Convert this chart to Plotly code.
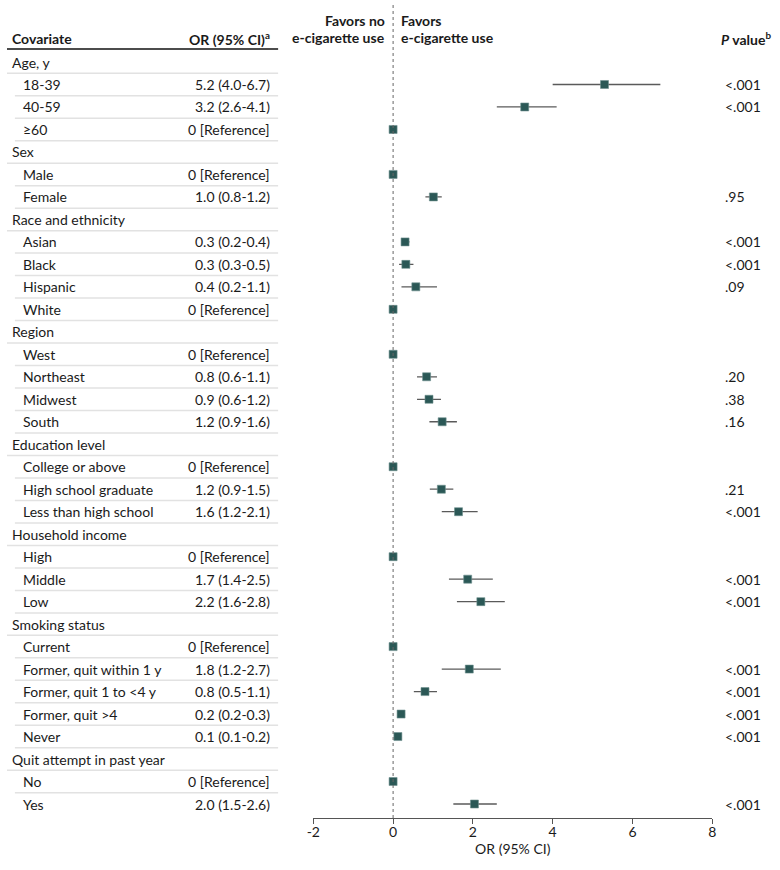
import plotly.graph_objects as go

# ---------------- data ----------------
row_labels = [
    "Age, y", "18-39", "40-59", "≥60",
    "Sex", "Male", "Female",
    "Race and ethnicity", "Asian", "Black", "Hispanic", "White",
    "Region", "West", "Northeast", "Midwest", "South",
    "Education level", "College or above", "High school graduate", "Less than high school",
    "Household income", "High", "Middle", "Low",
    "Smoking status", "Current", "Former, quit within 1 y", "Former, quit 1 to <4 y",
    "Former, quit >4", "Never",
    "Quit attempt in past year", "No", "Yes",
]
is_group = [
    True, False, False, False,
    True, False, False,
    True, False, False, False, False,
    True, False, False, False, False,
    True, False, False, False,
    True, False, False, False,
    True, False, False, False, False, False,
    True, False, False,
]
or_text = [
    "", "5.2 (4.0-6.7)", "3.2 (2.6-4.1)", "0 [Reference]",
    "", "0 [Reference]", "1.0 (0.8-1.2)",
    "", "0.3 (0.2-0.4)", "0.3 (0.3-0.5)", "0.4 (0.2-1.1)", "0 [Reference]",
    "", "0 [Reference]", "0.8 (0.6-1.1)", "0.9 (0.6-1.2)", "1.2 (0.9-1.6)",
    "", "0 [Reference]", "1.2 (0.9-1.5)", "1.6 (1.2-2.1)",
    "", "0 [Reference]", "1.7 (1.4-2.5)", "2.2 (1.6-2.8)",
    "", "0 [Reference]", "1.8 (1.2-2.7)", "0.8 (0.5-1.1)", "0.2 (0.2-0.3)", "0.1 (0.1-0.2)",
    "", "0 [Reference]", "2.0 (1.5-2.6)",
]
or_est = [
    None, 5.3, 3.3, 0,
    None, 0, 1.01,
    None, 0.30, 0.32, 0.57, 0,
    None, 0, 0.84, 0.90, 1.23,
    None, 0, 1.21, 1.64,
    None, 0, 1.87, 2.20,
    None, 0, 1.91, 0.80, 0.20, 0.12,
    None, 0, 2.04,
]
ci_low = [
    None, 4.0, 2.6, 0,
    None, 0, 0.81,
    None, 0.23, 0.15, 0.21, 0,
    None, 0, 0.60, 0.60, 0.91,
    None, 0, 0.92, 1.22,
    None, 0, 1.40, 1.60,
    None, 0, 1.22, 0.52, 0.15, 0.08,
    None, 0, 1.51,
]
ci_high = [
    None, 6.7, 4.1, 0,
    None, 0, 1.22,
    None, 0.41, 0.51, 1.10, 0,
    None, 0, 1.10, 1.20, 1.60,
    None, 0, 1.51, 2.12,
    None, 0, 2.50, 2.80,
    None, 0, 2.70, 1.10, 0.30, 0.20,
    None, 0, 2.60,
]
p_values = [
    "", "<.001", "<.001", "",
    "", "", ".95",
    "", "<.001", "<.001", ".09", "",
    "", "", ".20", ".38", ".16",
    "", "", ".21", "<.001",
    "", "", "<.001", "<.001",
    "", "", "<.001", "<.001", "<.001", "<.001",
    "", "", "<.001",
]
x_ticks = [-2, 0, 2, 4, 6, 8]

# ---------------- layout constants ----------------
W, H = 780, 870
FONT = "Lato"
TXT = "#1a1a1a"
MARK = "#2b5856"
row_px = 22.485
row0_px = 62.0
axis_px = 818.0
x_left_px, x_right_px = 310.7, 715.3


def px2row(py):
    return (py - row0_px) / row_px


def X(px):
    return px / W


idx = list(range(len(row_labels)))

fig = go.Figure()

# CI lines + markers
xs, ys, em, ep = [], [], [], []
for i in idx:
    if or_est[i] is None:
        continue
    xs.append(or_est[i]); ys.append(i)
    em.append(or_est[i] - ci_low[i]); ep.append(ci_high[i] - or_est[i])

fig.add_trace(go.Scatter(
    x=xs, y=ys, mode="markers",
    marker=dict(symbol="square", size=8, color=MARK, line=dict(color="#6f918f", width=0.6)),
    error_x=dict(type="data", symmetric=False, array=ep, arrayminus=em,
                 color="#5a5a5a", thickness=1.3, width=0),
    showlegend=False, hoverinfo="skip",
))

annotations = []
shapes = []

# header texts
hdr_row = px2row(38)
annotations.append(dict(x=X(3), y=hdr_row, xref="paper", yref="y", text="<b>Covariate</b>",
                        showarrow=False, xanchor="left", yanchor="middle",
                        font=dict(family=FONT, size=14, color=TXT)))
annotations.append(dict(x=X(269), y=hdr_row, xref="paper", yref="y",
                        text="<b>OR (95% CI)<sup>a</sup></b>",
                        showarrow=False, xanchor="right", yanchor="middle",
                        font=dict(family=FONT, size=14, color=TXT)))
annotations.append(dict(x=X(777), y=hdr_row, xref="paper", yref="y",
                        text="<b><i>P</i> value<sup>b</sup></b>",
                        showarrow=False, xanchor="right", yanchor="middle",
                        font=dict(family=FONT, size=14, color=TXT)))
for txt, py, anchor, xp in [("Favors no", 20.7, "right", 385), ("e-cigarette use", 37.7, "right", 385),
                            ("Favors", 20.7, "left", 398), ("e-cigarette use", 37.7, "left", 398)]:
    annotations.append(dict(x=X(xp), y=px2row(py), xref="paper", yref="y", text="<b>" + txt + "</b>",
                            showarrow=False, xanchor=anchor, yanchor="middle",
                            font=dict(family=FONT, size=14, color=TXT)))

# table rows
for i in idx:
    annotations.append(dict(x=X(3 if is_group[i] else 14), y=i, xref="paper", yref="y",
                            text=row_labels[i], showarrow=False, xanchor="left", yanchor="middle",
                            font=dict(family=FONT, size=14, color=TXT)))
    if or_text[i]:
        annotations.append(dict(x=X(269), y=i, xref="paper", yref="y", text=or_text[i],
                                showarrow=False, xanchor="right", yanchor="middle",
                                font=dict(family=FONT, size=14, color=TXT)))
    if p_values[i]:
        annotations.append(dict(x=X(726), y=i, xref="paper", yref="y", text=p_values[i],
                                showarrow=False, xanchor="left", yanchor="middle",
                                font=dict(family=FONT, size=14, color=TXT)))

# separators
shapes.append(dict(type="line", xref="paper", yref="y", x0=0, x1=X(275),
                   y0=px2row(49), y1=px2row(49), line=dict(color="#111", width=1.5)))
for i in idx[:-1]:
    x0 = 0 if is_group[i] else 8
    shapes.append(dict(type="line", xref="paper", yref="y", x0=X(x0), x1=X(275),
                       y0=i + 0.5, y1=i + 0.5, line=dict(color="#e2e2e2", width=1.5)))

# dotted reference line at 0
shapes.append(dict(type="line", xref="x", yref="y", x0=0, x1=0, y0=px2row(5), y1=px2row(axis_px),
                   line=dict(color="#666", width=1, dash="dot")))

fig.update_layout(
    width=W, height=H,
    margin=dict(l=0, r=0, t=0, b=0),
    paper_bgcolor="white", plot_bgcolor="white",
    font=dict(family=FONT, size=14, color=TXT),
    xaxis=dict(domain=[X(x_left_px), X(x_right_px)], range=[-2, 8],
               tickvals=x_ticks, ticktext=[str(t) for t in x_ticks],
               showgrid=False, zeroline=False, showline=True, linecolor="#555", linewidth=1,
               ticks="outside", ticklen=5, tickcolor="#555", ticklabelstandoff=-4,
               tickfont=dict(family=FONT, size=14, color=TXT),
               title=dict(text="OR (95% CI)", font=dict(family=FONT, size=14, color=TXT), standoff=4)),
    yaxis=dict(domain=[(H - axis_px) / H, 1], range=[px2row(axis_px), px2row(0)],
               showgrid=False, zeroline=False, showline=False, showticklabels=False, ticks=""),
    annotations=annotations, shapes=shapes,
)

fig.write_html("out.html", config={"displayModeBar": False},
               post_script="document.body.style.margin='0';document.body.style.padding='0';")
